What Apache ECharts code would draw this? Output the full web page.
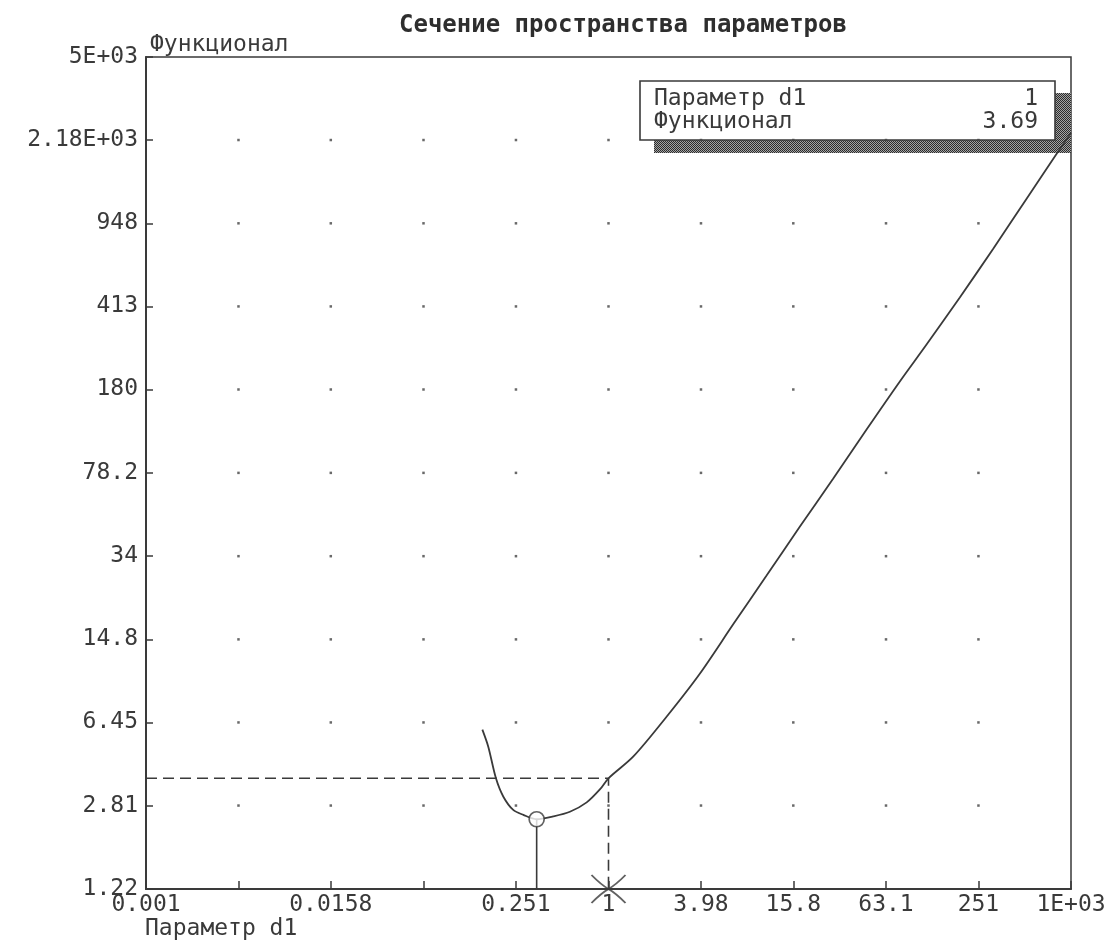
<!DOCTYPE html>
<html>
<head>
<meta charset="utf-8">
<title>Сечение пространства параметров</title>
<script src="https://cdn.jsdelivr.net/npm/echarts@6/dist/echarts.min.js"></script>
<style>
  html, body { margin: 0; padding: 0; background: #ffffff; }
  #chart { width: 1112px; height: 940px; }
</style>
</head>
<body>
<div id="chart"></div>
<script>
// Section of the parameter space: functional versus parameter d1 (log–log scales)

// Axis ticks (0.6-decade steps on x, equal log steps on y) and their printed labels
const xTickValues = [0.001, 0.00398, 0.0158, 0.0631, 0.251, 1, 3.98, 15.8, 63.1, 251, 1000];
const xTickLabels = ['0.001', '', '0.0158', '', '0.251', '1', '3.98', '15.8', '63.1', '251', '1E+03'];
const yTickValues = [1.22, 2.81, 6.45, 14.8, 34, 78.2, 180, 413, 948, 2180, 5000];
const yTickLabels = ['1.22', '2.81', '6.45', '14.8', '34', '78.2', '180', '413', '948', '2.18E+03', '5E+03'];

// Functional along the section
const d1Values = [0.152, 0.166, 0.186, 0.208, 0.241, 0.280, 0.342, 0.438, 0.562, 0.722, 0.879, 1,
                  1.445, 2.38, 3.91, 6.44, 10.6, 17.4, 28.7, 47.2, 77.6, 115.6, 190, 313, 514, 805, 1000];
const functionalValues = [6.0, 5.06, 3.70, 3.07, 2.69, 2.56, 2.45, 2.52, 2.64, 2.90, 3.30, 3.69,
                          4.58, 6.83, 10.5, 17.2, 28.0, 45.6, 73.9, 120.6, 195, 282, 452, 735, 1210, 1895, 2340];

// Current point and the minimum found on the section
const currentD1 = 1;
const currentFunctional = 3.69;
const minD1 = 0.342;
const minFunctional = 2.45;

const paramName = 'Параметр d1';
const funcName = 'Функционал';

const INK = '#3a3a3a';
const MONO = '"DejaVu Sans Mono", "Liberation Mono", monospace';
const FS = 23;

const xMin = xTickValues[0], xMax = xTickValues[xTickValues.length - 1];
const yMin = yTickValues[0], yMax = yTickValues[yTickValues.length - 1];

function labelFor(values, labels, v) {
  let best = 0, bestDist = Infinity;
  values.forEach((t, i) => {
    const d = Math.abs(Math.log10(t) - Math.log10(v));
    if (d < bestDist) { bestDist = d; best = i; }
  });
  return labels[best];
}

const curve = d1Values.map((d, i) => [d, functionalValues[i]]);

// dotted grid: one dot at every interior tick intersection
const gridDots = [];
for (let i = 1; i < xTickValues.length - 1; i++) {
  for (let j = 1; j < yTickValues.length - 1; j++) {
    gridDots.push([xTickValues[i], yTickValues[j]]);
  }
}

// dithered fill for the info box shadow
const dither = document.createElement('canvas');
dither.width = 2; dither.height = 2;
const dctx = dither.getContext('2d');
dctx.fillStyle = '#a4a4a4'; dctx.fillRect(0, 0, 2, 2);
dctx.fillStyle = '#2c2c2c'; dctx.fillRect(0, 0, 1, 1); dctx.fillRect(1, 1, 1, 1);

const chart = echarts.init(document.getElementById('chart'), null, { renderer: 'canvas' });

const labelStyle = { color: INK, fontFamily: MONO, fontSize: FS };

const option = {
  backgroundColor: '#ffffff',
  animation: false,
  title: [
    {
      text: 'Сечение пространства параметров',
      left: 394, top: 9,
      textStyle: { color: '#2e2e2e', fontFamily: MONO, fontSize: 24, fontWeight: 'bold' }
    },
    {
      text: paramName,
      left: 140, top: 913,
      textStyle: { color: INK, fontFamily: MONO, fontSize: FS, fontWeight: 'normal' }
    }
  ],
  grid: {
    left: 146, right: 41, top: 57, bottom: 51,
    show: true, borderColor: INK, borderWidth: 1.5, backgroundColor: 'transparent',
    outerBoundsMode: 'none'
  },
  xAxis: {
    type: 'log', logBase: 10, min: xMin, max: xMax,
    axisLine: { show: true, onZero: false, lineStyle: { color: INK, width: 2 } },
    axisTick: { show: true, inside: true, length: 8, customValues: xTickValues,
                lineStyle: { color: INK, width: 1.5 } },
    axisLabel: Object.assign({
      customValues: xTickValues.filter((v, i) => xTickLabels[i] !== ''),
      formatter: v => labelFor(xTickValues, xTickLabels, v),
      margin: 5, showMinLabel: true, showMaxLabel: true, hideOverlap: false
    }, labelStyle),
    splitLine: { show: false },
    minorTick: { show: false }
  },
  yAxis: {
    type: 'log', logBase: 10, min: yMin, max: yMax,
    name: funcName, nameLocation: 'end', nameGap: 0,
    nameTextStyle: Object.assign({ align: 'left', verticalAlign: 'bottom', padding: [0, 0, 0, 4] }, labelStyle),
    axisLine: { show: true, onZero: false, lineStyle: { color: INK, width: 2 } },
    axisTick: { show: true, inside: true, length: 7, customValues: yTickValues,
                lineStyle: { color: INK, width: 1.5 } },
    axisLabel: Object.assign({
      customValues: yTickValues,
      formatter: v => labelFor(yTickValues, yTickLabels, v),
      margin: 8, showMinLabel: true, showMaxLabel: true, hideOverlap: false
    }, labelStyle),
    splitLine: { show: false },
    minorTick: { show: false }
  },
  series: [
    {
      name: 'grid dots', type: 'scatter', silent: true, z: 1,
      symbol: 'rect', symbolSize: 2.5,
      itemStyle: { color: '#444444' },
      data: gridDots
    },
    {
      name: 'current guide', type: 'line', silent: true, z: 2,
      symbol: 'none',
      lineStyle: { color: INK, width: 1.6, type: [11, 6] },
      data: [[xMin, currentFunctional], [currentD1, currentFunctional], [currentD1, yMin]]
    },
    {
      name: 'minimum stem', type: 'line', silent: true, z: 2,
      symbol: 'none',
      lineStyle: { color: INK, width: 1.6 },
      data: [[minD1, minFunctional], [minD1, yMin]]
    },
    {
      name: funcName, type: 'line', z: 3,
      symbol: 'none', smooth: 0.3,
      lineStyle: { color: INK, width: 1.8 },
      data: curve
    },
    {
      name: 'minimum', type: 'scatter', z: 4,
      symbol: 'circle', symbolSize: 15,
      itemStyle: { color: '#ffffff', borderColor: INK, borderWidth: 1.7 },
      data: [[minD1, minFunctional]]
    },
    {
      name: 'current', type: 'scatter', z: 4,
      symbol: 'path://M0,0Q9,9 16,13Q23,17 32,26M32,0Q23,9 16,13Q9,17 0,26',
      symbolSize: [34, 28],
      itemStyle: { color: 'rgba(0,0,0,0)', borderColor: INK, borderWidth: 1.7 },
      data: [[currentD1, yMin]]
    }
  ],
  graphic: [
    {
      type: 'group', z: 100,
      children: [
        { type: 'rect', shape: { x: 654, y: 93, width: 417, height: 60 },
          style: { fill: { image: dither, repeat: 'repeat' } } },
        { type: 'rect', shape: { x: 640, y: 81, width: 415, height: 59 },
          style: { fill: '#ffffff', stroke: INK, lineWidth: 1.6 } },
        { type: 'text', x: 654, y: 99,
          style: { text: paramName, fill: INK, font: FS + 'px ' + MONO, verticalAlign: 'middle', align: 'left' } },
        { type: 'text', x: 1038, y: 99,
          style: { text: String(currentD1), fill: INK, font: FS + 'px ' + MONO, verticalAlign: 'middle', align: 'right' } },
        { type: 'text', x: 654, y: 122,
          style: { text: funcName, fill: INK, font: FS + 'px ' + MONO, verticalAlign: 'middle', align: 'left' } },
        { type: 'text', x: 1038, y: 122,
          style: { text: currentFunctional.toFixed(2), fill: INK, font: FS + 'px ' + MONO, verticalAlign: 'middle', align: 'right' } }
      ]
    }
  ]
};

chart.setOption(option);
</script>
</body>
</html>
